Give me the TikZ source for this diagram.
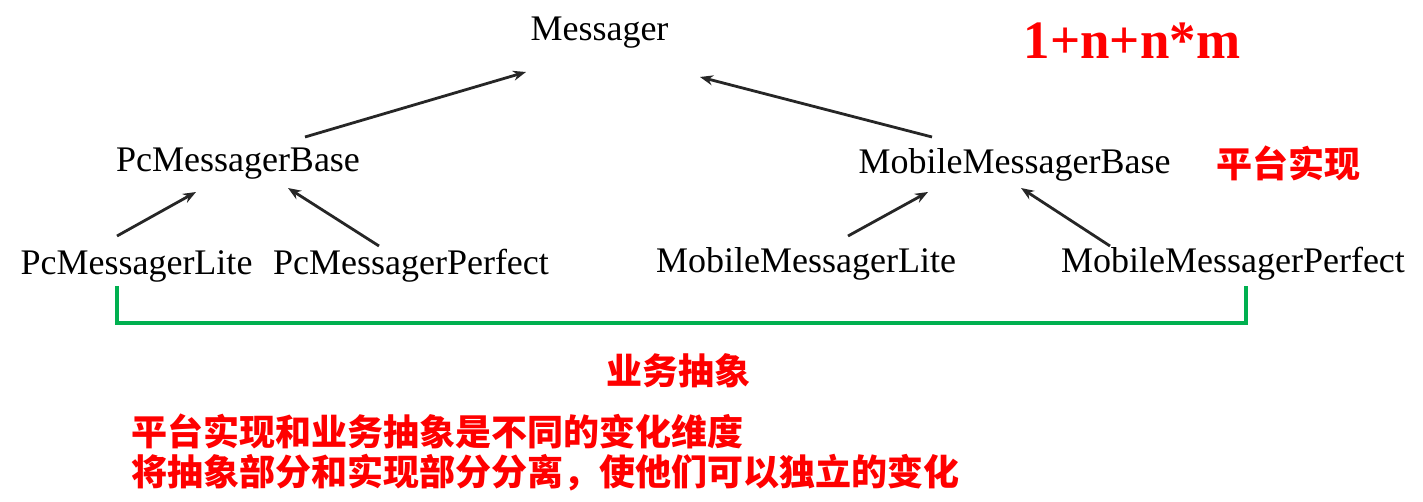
\documentclass[tikz,border=0pt]{standalone}
\usepackage{fontspec}
\setmainfont{Liberation Serif}
\newfontfamily\cjk{Noto Sans CJK SC}[BoldFont={Noto Sans CJK SC Black}]
\usetikzlibrary{arrows.meta,calc}
\definecolor{arrowgray}{HTML}{262626}
\definecolor{bracketgreen}{HTML}{00B050}
\tikzset{
  cls/.style={inner sep=0pt, anchor=base, font=\fontsize{36}{40}\selectfont},
  inherit/.style={draw=arrowgray, line width=2.8pt, -{Stealth[length=13pt,width=10pt]}},
  bracket/.style={draw=bracketgreen, line width=3.5pt},
  redcjk/.style={inner sep=0pt, text=red, font=\cjk\bfseries\fontsize{36}{40}\selectfont},
}
\begin{document}
\begin{tikzpicture}[x=1pt,y=-1pt]
\useasboundingbox (0,0) rectangle (1423,502);
% class nodes
\node[cls] (msg) at (599.5,41) {Messager};
\node[cls] (pcbase) at (238,172) {PcMessagerBase};
\node[cls] (mobbase) at (1014.5,174) {MobileMessagerBase};
\node[cls] (pclite) at (136.5,275) {PcMessagerLite};
\node[cls] (pcperf) at (411,275) {PcMessagerPerfect};
\node[cls] (moblite) at (806,273) {MobileMessagerLite};
\node[cls] (mobperf) at (1233,273) {MobileMessagerPerfect};
% labels
\node[inner sep=0pt, anchor=base, text=red, font=\bfseries\fontsize{54}{58}\selectfont, xscale=0.98] (formula) at (1132,59) {1+n+n*m};
\node[redcjk] (platform) at (1288,163.5) {平台实现};
\node[redcjk] (business) at (678,371) {业务抽象};
\node[redcjk, anchor=west] (line1) at (131,431) {平台实现和业务抽象是不同的变化维度};
\node[redcjk, anchor=west] (line2) at (131,473) {将抽象部分和实现部分分离，使他们可以独立的变化};
% inheritance arrows
\draw[inherit] ($(pcbase.base)+(67,-35)$) -- ($(msg.base)+(-73.5,31)$);
\draw[inherit] ($(mobbase.base)+(-82.5,-37)$) -- ($(msg.base)+(100.5,36)$);
\draw[inherit] ($(pclite.base)+(-19.5,-39)$) -- ($(pcbase.base)+(-42,20)$);
\draw[inherit] ($(pcperf.base)+(-32,-29)$) -- ($(pcbase.base)+(50,16)$);
\draw[inherit] ($(moblite.base)+(42,-37)$) -- ($(mobbase.base)+(-86.5,18)$);
\draw[inherit] ($(mobperf.base)+(-123,-27)$) -- ($(mobbase.base)+(6.5,14)$);
% green bracket
\draw[bracket] ($(pclite.base)+(-19.5,11)$) -- ++(0,37) -| ($(mobperf.base)+(13,13)$);
\end{tikzpicture}
\end{document}
